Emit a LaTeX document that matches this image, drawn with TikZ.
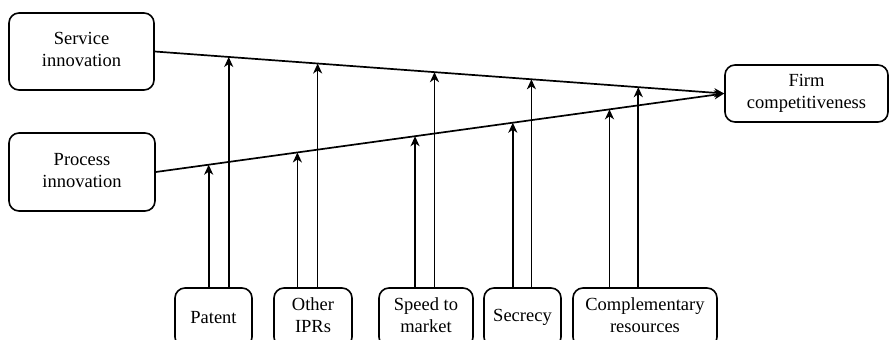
\documentclass[tikz,border=0pt]{standalone}
\usepackage{fontspec}
\setmainfont{Liberation Serif}
\newfontfamily\timesfam{Liberation Serif}
\usetikzlibrary{calc,arrows.meta}
\newcommand{\boxfont}{\timesfam\fontsize{18.5}{22}\selectfont}
\tikzset{
  box/.style={draw, rounded corners=10pt, line width=1.6pt, inner sep=0pt,
    font=\boxfont},
  arr/.style={line width=1.7pt, -{Stealth[length=10pt,width=9pt,inset=3pt]}}
}
\newcommand{\two}[2]{\begin{tabular}{@{}c@{}}#1\\#2\end{tabular}}
\begin{document}
\begin{tikzpicture}[x=1pt,y=-1pt]
\useasboundingbox (0,0) rectangle (889,340);
\clip (0,0) rectangle (889,340);
\node[box, minimum width=145pt, minimum height=77pt] (svc) at (81.5,51.5) {\two{Service}{innovation}};
\node[box, minimum width=146pt, minimum height=78pt] (prc) at (82,172) {\two{Process}{innovation}};
\node[box, minimum width=163pt, minimum height=57pt] (firm) at (806.5,93.5) {\two{Firm}{competitiveness}};
\node[box, minimum width=77pt, minimum height=59pt] (patent) at (213.5,317.5) {Patent};
\node[box, minimum width=78pt, minimum height=59pt] (ipr) at (313,317.5) {\two{Other}{IPRs}};
\node[box, minimum width=94pt, minimum height=59pt] (speed) at (426,317.5) {\two{Speed to}{market}};
\node[box, minimum width=77pt, minimum height=59pt] (secr) at (522.5,317.5) {Secrecy};
\node[box, minimum width=144pt, minimum height=59pt] (comp) at (645,317.5) {\two{Complementary}{resources}};
\draw[arr] (svc.east) -- (firm.west);
\draw[arr] (prc.east) -- (firm.west);
% targets on process line
\coordinate (p1) at ($(prc.east)!0.0930!(firm.west)$);
\coordinate (p2) at ($(prc.east)!0.2491!(firm.west)$);
\coordinate (p3) at ($(prc.east)!0.4561!(firm.west)$);
\coordinate (p4) at ($(prc.east)!0.6281!(firm.west)$);
\coordinate (p5) at ($(prc.east)!0.7982!(firm.west)$);
% targets on service line
\coordinate (s1) at ($(svc.east)!0.1298!(firm.west)$);
\coordinate (s2) at ($(svc.east)!0.2860!(firm.west)$);
\coordinate (s3) at ($(svc.east)!0.4912!(firm.west)$);
\coordinate (s4) at ($(svc.east)!0.6614!(firm.west)$);
\coordinate (s5) at ($(svc.east)!0.8491!(firm.west)$);
\draw[arr] (patent.north -| p1) -- (p1);
\draw[arr] (patent.north -| s1) -- (s1);
\draw[arr] (ipr.north -| p2) -- (p2);
\draw[arr] (ipr.north -| s2) -- (s2);
\draw[arr] (speed.north -| p3) -- (p3);
\draw[arr] (speed.north -| s3) -- (s3);
\draw[arr] (secr.north -| p4) -- (p4);
\draw[arr] (secr.north -| s4) -- (s4);
\draw[arr] (comp.north -| p5) -- (p5);
\draw[arr] (comp.north -| s5) -- (s5);
\end{tikzpicture}
\end{document}
